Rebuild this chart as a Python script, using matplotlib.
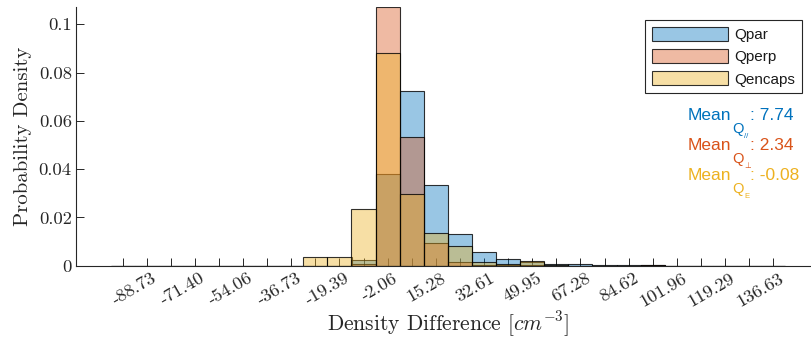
import numpy as np
import matplotlib
matplotlib.use("Agg")
import matplotlib.pyplot as plt
from matplotlib.patches import Patch
from matplotlib.transforms import ScaledTranslation

plt.rcParams['mathtext.fontset'] = 'cm'

# ---- data -------------------------------------------------------------
bin_centers = [-97.40, -88.73, -80.07, -71.40, -62.73, -54.06, -45.40, -36.73,
               -28.06, -19.39, -10.73, -2.06, 6.61, 15.28, 23.94, 32.61,
               41.28, 49.95, 58.61, 67.28, 75.95, 84.62, 93.29, 101.96,
               110.62, 119.29, 127.96, 136.63]
bin_width = 8.667

qpar = [0, 0, 0, 0, 0, 0, 0, 0,
        0, 0, 0.0024, 0.0380, 0.0725, 0.0333, 0.0131, 0.0057,
        0.0026, 0.0016, 0.0006, 0.0005, 0.0002, 0.0001, 0.0003, 0,
        0, 0, 0, 0]
qperp = [0, 0, 0, 0, 0, 0, 0, 0,
         0, 0, 0.0008, 0.1073, 0.0534, 0.0095, 0.0015, 0.0004,
         0.0003, 0.0002, 0, 0, 0, 0, 0.0002, 0,
         0, 0, 0, 0]
qencaps = [0, 0, 0, 0, 0, 0, 0, 0,
           0.0035, 0.0035, 0.0233, 0.0880, 0.0297, 0.0134, 0.0082, 0.0015,
           0.0006, 0.0018, 0.0002, 0, 0, 0, 0, 0,
           0, 0, 0, 0]

series_names = ["Qpar", "Qperp", "Qencaps"]
series_colors = ["#0072BD", "#D95319", "#EDB120"]
means = [7.74, 2.34, -0.08]
mean_subs = ["//", "\u22a5", "E"]

xtick_labels = ["-88.73", "-71.40", "-54.06", "-36.73", "-19.39", "-2.06",
                "15.28", "32.61", "49.95", "67.28", "84.62", "101.96",
                "119.29", "136.63"]
yticks = [0, 0.02, 0.04, 0.06, 0.08, 0.1]
ytick_labels = ["0", "0.02", "0.04", "0.06", "0.08", "0.1"]

# ---- figure -----------------------------------------------------------
W, H = 812, 342
fig = plt.figure(figsize=(W / 100, H / 100), dpi=100)
# axes placed in pixel units (left, bottom, right, top)
L, B, R, T = 76, 342 - 265.7, 821, 342 - 6.7
ax = fig.add_axes([L / W, B / H, (R - L) / W, (T - B) / H])

axis_gray = (0.15, 0.15, 0.15)
face_alpha = 0.4
edge_rgba = (0, 0, 0, 0.8)
for vals, col in zip([qpar, qperp, qencaps], series_colors):
    ax.bar(bin_centers, vals, width=bin_width, align='center',
           facecolor=matplotlib.colors.to_rgba(col, face_alpha),
           edgecolor=edge_rgba, linewidth=0.8, zorder=1)

ax.set_xlim(-114.15, 153.8)
ax.set_ylim(0, 0.1073)
ax.set_axisbelow(True)

for s in ["top", "right"]:
    ax.spines[s].set_visible(False)
for s in ["left", "bottom"]:
    ax.spines[s].set_color(axis_gray)
    ax.spines[s].set_linewidth(0.8)

# every bin centre carries a tick, every other one is labelled
tick_text = [""] * len(bin_centers)
tick_text[1::2] = xtick_labels
ax.set_xticks(bin_centers)
ax.set_xticklabels(tick_text)
ax.set_yticks(yticks)
ax.set_yticklabels(ytick_labels)
ax.tick_params(axis='both', direction='in', length=5.5, width=0.7,
               color=axis_gray, labelcolor=axis_gray)
ax.tick_params(axis='x', pad=3.5)
ax.tick_params(axis='y', pad=3)

for lbl in ax.get_xticklabels():
    lbl.set_fontfamily('cmr10')
    lbl.set_fontsize(13.4)
    lbl.set_rotation(30)
    lbl.set_ha('right')
    lbl.set_va('top')
    lbl.set_rotation_mode('anchor')
    lbl.set_transform(lbl.get_transform() +
                      ScaledTranslation(5 / 100, 0, fig.dpi_scale_trans))
for lbl in ax.get_yticklabels():
    lbl.set_fontfamily('cmr10')
    lbl.set_fontsize(13.4)

ax.set_ylabel("Probability Density", fontfamily='cmr10', fontsize=15,
              color=axis_gray, labelpad=5)
ax.set_xlabel(r"Density Difference $[cm^{-3}]$", fontfamily='cmr10',
              fontsize=15.5, color=axis_gray, labelpad=0)

# ---- legend -----------------------------------------------------------
handles = [Patch(facecolor=matplotlib.colors.to_rgba(c, face_alpha),
                 edgecolor=edge_rgba, linewidth=0.8, label=n)
           for c, n in zip(series_colors, series_names)]
leg = fig.legend(handles=handles, loc='upper right',
                 bbox_to_anchor=(802 / W, 1 - 20 / H),
                 bbox_transform=fig.transFigure,
                 prop=dict(family='Liberation Sans', size=11),
                 handlelength=5.0, handleheight=1.05, handletextpad=0.4,
                 labelspacing=0.45, borderpad=0.45, borderaxespad=0,
                 fancybox=False, framealpha=1)
leg.get_frame().set_edgecolor(axis_gray)
leg.get_frame().set_linewidth(0.8)
for t in leg.get_texts():
    t.set_color((0.1, 0.1, 0.1))

# ---- mean annotations -------------------------------------------------
sans = ['Liberation Sans', 'DejaVu Sans']
for i, (m, col, sub) in enumerate(zip(means, series_colors, mean_subs)):
    base = 120 + 30 * i
    fig.text(688 / W, 1 - base / H, "Mean", color=col, fontsize=12.5,
             family=sans, va='baseline', ha='left')
    fig.text(732.5 / W, 1 - (base + 12.7) / H, "Q", color=col, fontsize=10.5,
             family=sans, va='baseline', ha='left')
    fig.text(744 / W, 1 - (base + 18.5) / H, sub, color=col, fontsize=5.5,
             family=sans, va='baseline', ha='left')
    fig.text(750.5 / W, 1 - base / H, f": {m:.2f}", color=col, fontsize=12.5,
             family=sans, va='baseline', ha='left')

fig.savefig("out.png", dpi=100)
